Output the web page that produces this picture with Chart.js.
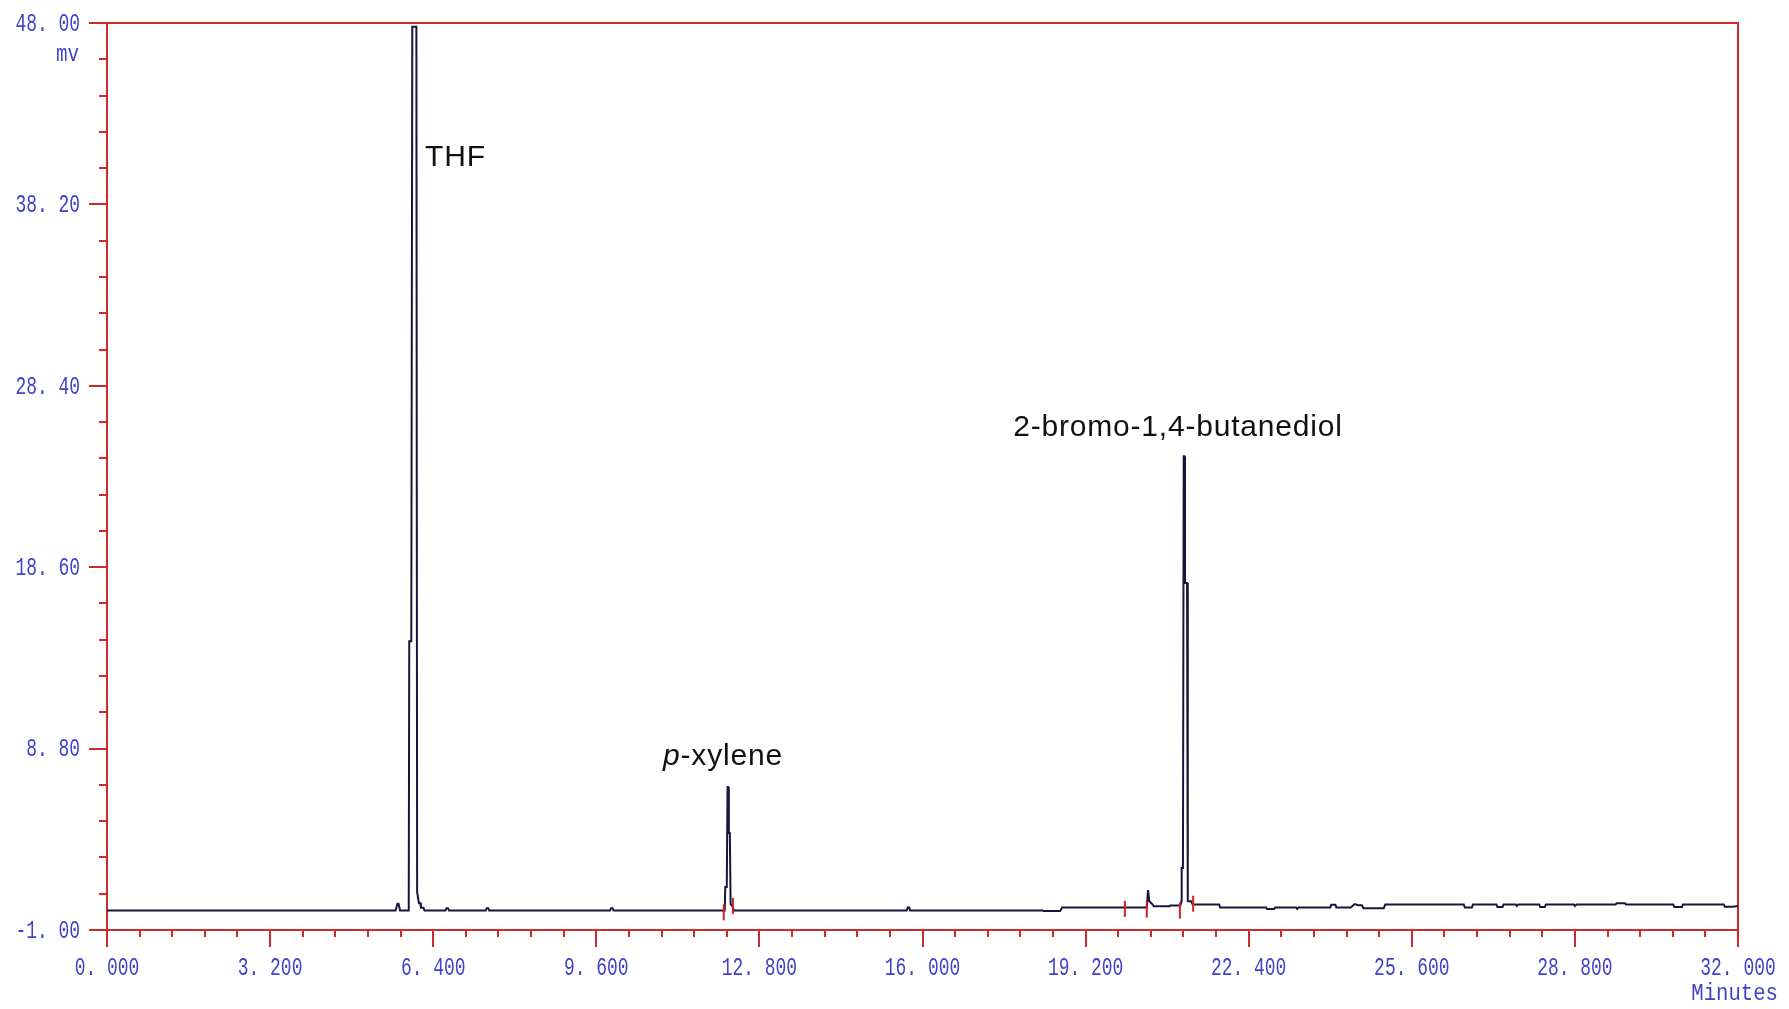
<!DOCTYPE html>
<html>
<head>
<meta charset="utf-8">
<title>Chromatogram</title>
<script src="https://cdn.jsdelivr.net/npm/chart.js@4.4.1/dist/chart.umd.min.js"></script>
<style>
  html, body { margin: 0; padding: 0; background: #ffffff; }
  #wrap { width: 1789px; height: 1009px; }
</style>
</head>
<body>
<div id="wrap"><canvas id="chrom" width="1789" height="1009"></canvas></div>
<script>
// Detector trace: retention time (min) and signal (mV)
const timeMin = [
  0.00, 5.66, 5.70, 5.72, 5.75, 5.92, 5.93, 5.97, 5.99, 6.07,
  6.085, 6.10, 6.12, 6.15, 6.16, 6.21, 6.23, 6.64, 6.66, 6.69,
  6.71, 7.43, 7.45, 7.48, 7.50, 9.87, 9.89, 9.92, 9.94, 12.12,
  12.13, 12.16, 12.175, 12.185, 12.20, 12.22, 12.235, 12.27, 12.30, 15.69,
  15.71, 15.74, 15.76, 18.36, 18.38, 18.70, 18.74, 20.40, 20.425, 20.435,
  20.45, 20.50, 20.54, 20.84, 20.86, 21.06, 21.08, 21.085, 21.11, 21.125,
  21.135, 21.15, 21.19, 21.205, 21.27, 21.30, 21.82, 21.84, 22.74, 22.76,
  22.90, 22.92, 23.33, 23.35, 23.38, 24.00, 24.02, 24.10, 24.12, 24.40,
  24.48, 24.55, 24.62, 24.65, 25.05, 25.08, 26.62, 26.64, 26.78, 26.80,
  27.26, 27.28, 27.38, 27.40, 27.64, 27.66, 27.69, 28.10, 28.12, 28.21,
  28.23, 28.78, 28.80, 28.83, 29.60, 29.62, 29.78, 29.80, 30.73, 30.75,
  30.90, 30.92, 31.72, 31.74, 31.90, 32.00
];
const signalMv = [
  0.05, 0.05, 0.42, 0.42, 0.05, 0.05, 14.6, 14.6, 47.8, 47.8,
  1.05, 1.05, 0.45, 0.45, 0.20, 0.20, 0.05, 0.05, 0.18, 0.18,
  0.05, 0.05, 0.18, 0.18, 0.05, 0.05, 0.18, 0.18, 0.05, 0.05,
  1.32, 1.32, 6.73, 6.73, 4.24, 4.24, 0.40, 0.30, 0.05, 0.05,
  0.22, 0.22, 0.05, 0.05, 0.02, 0.02, 0.22, 0.22, 1.16, 1.16,
  0.55, 0.42, 0.28, 0.28, 0.32, 0.32, 0.55, 2.35, 2.35, 24.6,
  24.6, 17.75, 17.75, 0.55, 0.55, 0.38, 0.38, 0.22, 0.22, 0.14,
  0.14, 0.22, 0.22, 0.14, 0.22, 0.22, 0.36, 0.36, 0.22, 0.22,
  0.40, 0.34, 0.34, 0.18, 0.18, 0.38, 0.38, 0.22, 0.22, 0.38,
  0.38, 0.24, 0.24, 0.38, 0.38, 0.30, 0.38, 0.38, 0.24, 0.24,
  0.38, 0.38, 0.30, 0.38, 0.38, 0.45, 0.45, 0.38, 0.38, 0.24,
  0.24, 0.38, 0.38, 0.26, 0.26, 0.30
];

// Integration start/end marks
const markerTimes = [12.10, 12.28, 19.97, 20.40, 21.05, 21.31];
const markerMv    = [-0.05, 0.30, 0.14, 0.10, 0.05, 0.42];

// Axis ticks
const xTickValues = [0, 3.2, 6.4, 9.6, 12.8, 16, 19.2, 22.4, 25.6, 28.8, 32];
const xTickLabels = ['0. 000', '3. 200', '6. 400', '9. 600', '12. 800', '16. 000',
                     '19. 200', '22. 400', '25. 600', '28. 800', '32. 000'];
const yTickValues = [-1, 8.8, 18.6, 28.4, 38.2, 48];
const yTickLabels = ['-1. 00', '8. 80', '18. 60', '28. 40', '38. 20', '48. 00'];
const xMinorPerMajor = 5;
const yMinorPerMajor = 5;
const xUnit = 'Minutes';
const yUnit = 'mv';

// Peak names
const peakNames = ['THF', 'p-xylene', '2-bromo-1,4-butanediol'];

const AXIS_RED = '#cf2b2b';
const TICK_BLUE = '#4242c8';
const MONO = '"Liberation Mono", "DejaVu Sans Mono", monospace';

function condensedText(ctx, text, x, y, sx, align) {
  ctx.save();
  ctx.translate(x, y);
  ctx.scale(sx, 1);
  ctx.textAlign = align;
  ctx.fillText(text, 0, 0);
  ctx.restore();
}

// Red frame, outward tick marks and blue tick labels
const framePlugin = {
  id: 'chromFrame',
  beforeDatasetsDraw(chart) {
    const { ctx, chartArea: a, scales: { x, y } } = chart;
    ctx.save();
    ctx.strokeStyle = AXIS_RED;
    ctx.lineWidth = 2;
    ctx.lineCap = 'butt';
    ctx.beginPath();
    ctx.rect(Math.round(a.left), Math.round(a.top), Math.round(a.right - a.left), Math.round(a.bottom - a.top));
    ctx.stroke();

    // y ticks
    const yMin = yTickValues[0], yMax = yTickValues[yTickValues.length - 1];
    const yMinorCount = (yTickValues.length - 1) * yMinorPerMajor;
    ctx.beginPath();
    for (let i = 0; i <= yMinorCount; i++) {
      const v = yMin + (yMax - yMin) * i / yMinorCount;
      const py = Math.round(y.getPixelForValue(v));
      const len = (i % yMinorPerMajor === 0) ? 18 : 8;
      ctx.moveTo(a.left, py);
      ctx.lineTo(a.left - len, py);
    }
    // x ticks
    const xMin = xTickValues[0], xMax = xTickValues[xTickValues.length - 1];
    const xMinorCount = (xTickValues.length - 1) * xMinorPerMajor;
    for (let i = 0; i <= xMinorCount; i++) {
      const v = xMin + (xMax - xMin) * i / xMinorCount;
      const px = Math.round(x.getPixelForValue(v));
      const len = (i % xMinorPerMajor === 0) ? 17 : 7;
      ctx.moveTo(px, a.bottom);
      ctx.lineTo(px, a.bottom + len);
    }
    ctx.stroke();

    // tick labels
    ctx.fillStyle = TICK_BLUE;
    ctx.font = '26px ' + MONO;
    ctx.textBaseline = 'middle';
    yTickValues.forEach((v, i) => {
      condensedText(ctx, yTickLabels[i], a.left - 27, y.getPixelForValue(v) + 1, 0.69, 'right');
    });
    xTickValues.forEach((v, i) => {
      condensedText(ctx, xTickLabels[i], x.getPixelForValue(v), a.bottom + 38, 0.69, 'center');
    });
    ctx.font = '24px ' + MONO;
    condensedText(ctx, yUnit, a.left - 28, a.top + 32, 0.8, 'right');
    condensedText(ctx, xUnit, chart.width - 11, a.bottom + 64, 0.86, 'right');
    ctx.restore();
  }
};

// Peak name labels, placed in data coordinates (left edge, baseline)
const peakLabelPlugin = {
  id: 'peakLabels',
  afterDraw(chart, args, opts) {
    const { ctx, scales: { x, y } } = chart;
    ctx.save();
    ctx.fillStyle = '#111111';
    ctx.textBaseline = 'alphabetic';
    ctx.textAlign = 'left';
    if ('letterSpacing' in ctx) ctx.letterSpacing = '0.8px';
    opts.anchors.forEach((p, i) => {
      const name = peakNames[i];
      let px = x.getPixelForValue(p.t);
      const py = y.getPixelForValue(p.mv);
      if (name.startsWith('p-')) {
        ctx.font = 'italic 30px "Liberation Sans", Arial, sans-serif';
        ctx.fillText('p', px, py);
        px += ctx.measureText('p').width;
        ctx.font = '30px "Liberation Sans", Arial, sans-serif';
        ctx.fillText(name.slice(1), px, py);
      } else {
        ctx.font = '30px "Liberation Sans", Arial, sans-serif';
        ctx.fillText(name, px, py);
      }
    });
    ctx.restore();
  }
};

new Chart(document.getElementById('chrom').getContext('2d'), {
  type: 'line',
  data: {
    datasets: [
      {
        label: 'integration marks',
        type: 'scatter',
        data: markerTimes.map((t, i) => ({ x: t, y: markerMv[i] })),
        showLine: false,
        pointStyle: 'line',
        pointRotation: 90,
        pointRadius: 8,
        pointBorderWidth: 2,
        pointBorderColor: '#d42020',
        pointBackgroundColor: '#d42020'
      },
      {
        label: 'signal',
        data: timeMin.map((t, i) => ({ x: t, y: signalMv[i] })),
        borderColor: '#16163c',
        borderWidth: 2,
        pointRadius: 0,
        tension: 0,
        fill: false,
        borderJoinStyle: 'miter'
      }
    ]
  },
  options: {
    responsive: false,
    animation: false,
    devicePixelRatio: 1,
    layout: { padding: { left: 0, right: 51, top: 23, bottom: 0 } },
    plugins: {
      legend: { display: false },
      tooltip: { enabled: false },
      peakLabels: {
        anchors: [
          { t: 6.24, mv: 40.3 },
          { t: 10.91, mv: 7.9 },
          { t: 17.78, mv: 25.7 }
        ]
      }
    },
    scales: {
      x: {
        type: 'linear',
        min: xTickValues[0],
        max: xTickValues[xTickValues.length - 1],
        ticks: { display: false },
        grid: { display: false },
        border: { display: false },
        afterFit(s) { s.height = 79; }
      },
      y: {
        type: 'linear',
        min: yTickValues[0],
        max: yTickValues[yTickValues.length - 1],
        ticks: { display: false },
        grid: { display: false },
        border: { display: false },
        afterFit(s) { s.width = 107; }
      }
    }
  },
  plugins: [framePlugin, peakLabelPlugin]
});
</script>
</body>
</html>
